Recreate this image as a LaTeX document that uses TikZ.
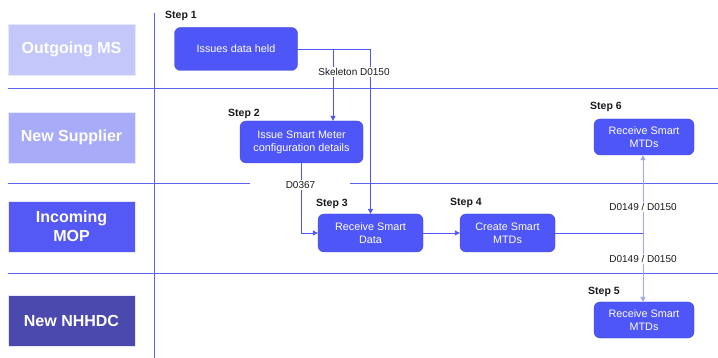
\documentclass[tikz,border=0pt]{standalone}
\usepackage{fontspec}
\setmainfont{Liberation Sans}
\usetikzlibrary{arrows.meta}
\definecolor{nodeblue}{RGB}{79,86,247}
\definecolor{laneline}{RGB}{92,98,240}
\definecolor{laneA}{RGB}{196,199,250}
\definecolor{laneB}{RGB}{167,171,248}
\definecolor{laneC}{RGB}{84,88,245}
\definecolor{laneD}{RGB}{76,73,174}
\definecolor{lightline}{RGB}{160,164,248}
\definecolor{steptext}{RGB}{25,25,30}
\begin{document}
\begin{tikzpicture}[x=1pt,y=-1pt,
  lanebox/.style={draw=white!85!laneline,line width=0.6pt,minimum width=127pt,minimum height=51pt,inner sep=0pt,
    text=white,font=\fontsize{16}{19}\selectfont\bfseries,align=center},
  stepbox/.style={fill=nodeblue,draw=nodeblue!80!black,line width=0.3pt,rounded corners=6pt,text=white,
    font=\fontsize{10.8}{13}\selectfont,align=center,inner sep=0pt},
  steplabel/.style={font=\fontsize{10.5}{12}\selectfont\bfseries,text=steptext,anchor=west,inner sep=0pt},
  edgelabel/.style={font=\fontsize{10}{12}\selectfont,text=steptext,fill=white,inner sep=1pt},
  conn/.style={draw=nodeblue,line width=0.8pt},
  arr/.style={-{Triangle[length=5pt,width=5pt]}}
]
\useasboundingbox[fill=white] (0,0) rectangle (718,358);
% lane lines
\draw[laneline,line width=0.8pt] (154,13) -- (154,358);
\draw[laneline,line width=0.8pt] (8,88) -- (718,88);
\draw[laneline,line width=0.8pt] (8,183) -- (250,183);
\draw[laneline,line width=0.8pt] (350,183) -- (718,183);
\draw[laneline,line width=0.8pt] (8,273) -- (718,273);
% lane labels
\node[lanebox,fill=laneA] (l1) at (71.5,49.5) {Outgoing MS};
\node[lanebox,fill=laneB] (l2) at (71.5,137.5) {New Supplier};
\node[lanebox,fill=laneC] (l3) at (71.5,226.5) {Incoming\\MOP};
\node[lanebox,fill=laneD] (l4) at (71.5,321) {New NHHDC};
% step nodes
\node[stepbox,minimum width=123pt,minimum height=43pt] (s1) at (236,49) {Issues data held};
\node[stepbox,minimum width=123pt,minimum height=42pt] (s2) at (301.5,142) {Issue Smart Meter\\configuration details};
\node[stepbox,minimum width=105pt,minimum height=38pt] (s3) at (370.5,233) {Receive Smart\\Data};
\node[stepbox,minimum width=95pt,minimum height=38pt] (s4) at (507.5,233) {Create Smart\\MTDs};
\node[stepbox,minimum width=100pt,minimum height=36pt] (s6) at (644,137) {Receive Smart\\MTDs};
\node[stepbox,minimum width=100pt,minimum height=36pt] (s5) at (644,320) {Receive Smart\\MTDs};
% step labels
\node[steplabel] (t1) at (165,16) {Step 1};
\node[steplabel] (t2) at (228,114) {Step 2};
\node[steplabel] (t3) at (316,204) {Step 3};
\node[steplabel] (t4) at (450,203) {Step 4};
\node[steplabel] (t5) at (588,292) {Step 5};
\node[steplabel] (t6) at (590,107) {Step 6};
% connectors
\coordinate (b1) at (333,49);
\coordinate (j) at (643,233);
\draw[conn,arr] (s1.east) -| (s3.north);
\draw[conn,arr] (b1) -- (b1 |- s2.north);
\draw[conn,arr] (s2.south) |- (s3.west);
\draw[conn,arr] (s3.east) -- (s4.west);
\draw[conn] (s4.east) -- (j);
\draw[draw=lightline,line width=0.9pt,-{Triangle[length=5pt,width=5pt]}] (j) -- (j |- s6.south);
\draw[draw=lightline,line width=0.9pt,-{Triangle[length=5pt,width=5pt]}] (j) -- (j |- s5.north);
% edge labels
\node[edgelabel] (e1) at (354,72) {Skeleton D0150};
\node[edgelabel] (e2) at (300.5,185) {D0367};
\node[edgelabel] (e3) at (643,207) {D0149 / D0150};
\node[edgelabel] (e4) at (643,259) {D0149 / D0150};
\end{tikzpicture}
\end{document}
